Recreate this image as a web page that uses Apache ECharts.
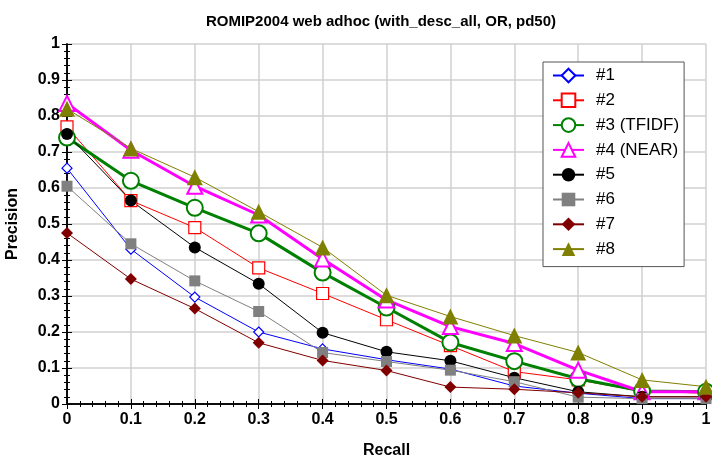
<!DOCTYPE html>
<html>
<head>
<meta charset="utf-8">
<script src="https://cdn.jsdelivr.net/npm/echarts@6/dist/echarts.min.js"></script>
<style>
  html, body { margin: 0; padding: 0; background: #fff; }
  #chart { width: 712px; height: 460px; }
</style>
</head>
<body>
<div id="chart"></div>
<script>
// recall points (x axis)
var recall = [0, 0.1, 0.2, 0.3, 0.4, 0.5, 0.6, 0.7, 0.8, 0.9, 1]
// precision per run
var run1 = [0.655, 0.43, 0.297, 0.2, 0.153, 0.123, 0.097, 0.05, 0.03, 0.015, 0.015]
var run2 = [0.77, 0.565, 0.49, 0.378, 0.307, 0.234, 0.162, 0.09, 0.067, 0.035, 0.03]
var run3 = [0.74, 0.62, 0.545, 0.474, 0.365, 0.268, 0.171, 0.119, 0.07, 0.036, 0.034]
var run4 = [0.835, 0.705, 0.605, 0.525, 0.403, 0.289, 0.215, 0.168, 0.094, 0.034, 0.034]
var run5 = [0.75, 0.565, 0.435, 0.334, 0.198, 0.145, 0.12, 0.073, 0.034, 0.02, 0.02]
var run6 = [0.605, 0.445, 0.342, 0.257, 0.143, 0.118, 0.094, 0.062, 0.019, 0.015, 0.015]
var run7 = [0.475, 0.347, 0.265, 0.17, 0.121, 0.093, 0.047, 0.041, 0.031, 0.02, 0.02]
var run8 = [0.82, 0.71, 0.63, 0.534, 0.435, 0.302, 0.243, 0.19, 0.143, 0.067, 0.048]
var runNames = ['#1', '#2', '#3 (TFIDF)', '#4 (NEAR)', '#5', '#6', '#7', '#8']

function pairs (vals) {
  return recall.map(function (r, i) { return [r, vals[i]] })
}

var font = '"Liberation Sans", Arial, sans-serif'
var myChart = echarts.init(document.getElementById('chart'))

function mkSeries (name, vals, color, symbol, size, hollow, lw) {
  return {
    name: name,
    type: 'line',
    data: pairs(vals),
    symbol: symbol,
    symbolSize: size,
    showAllSymbol: true,
    lineStyle: { color: color, width: lw },
    itemStyle: {
      color: hollow ? '#fff' : color,
      borderColor: color,
      borderWidth: hollow ? (lw > 1 ? 2 : 1.2) : 0
    },
    emphasis: { disabled: true },
    animation: false
  }
}

// top / right axes only draw the frame with inside ticks
var frameAxis = {
  type: 'value',
  min: 0,
  max: 1,
  interval: 0.1,
  axisLine: { show: true, lineStyle: { color: '#000', width: 1.5 } },
  axisTick: { show: true, inside: true, length: 5, lineStyle: { color: '#000' } },
  minorTick: { show: true, splitNumber: 5, length: 3, lineStyle: { color: '#000' } },
  axisLabel: { show: false },
  splitLine: { show: false }
}

var labelStyle = { fontFamily: font, fontSize: 16, fontWeight: 'bold', color: '#000' }

var option = {
  backgroundColor: '#fff',
  title: {
    text: 'ROMIP2004 web adhoc (with_desc_all, OR, pd50)',
    left: 376,
    top: 9,
    textAlign: 'center',
    textStyle: { fontFamily: font, fontSize: 15, fontWeight: 'bold', color: '#000' }
  },
  grid: { left: 67, right: 6, top: 44, bottom: 56, outerBoundsMode: 'none' },
  legend: {
    orient: 'vertical',
    left: 543,
    top: 62,
    padding: [5, 5, 9, 9],
    itemGap: 7.8,
    itemWidth: 31,
    itemHeight: 17,
    backgroundColor: '#fff',
    borderColor: '#555',
    borderWidth: 1,
    data: runNames,
    textStyle: { fontFamily: font, fontSize: 17, lineHeight: 17, color: '#000', padding: [0, 0, 0, 7] }
  },
  xAxis: [
    {
      type: 'value',
      min: 0,
      max: 1,
      interval: 0.1,
      name: 'Recall',
      nameLocation: 'middle',
      nameGap: 39,
      nameTextStyle: labelStyle,
      axisLine: { show: true, lineStyle: { color: '#000', width: 1.5 } },
      axisTick: { show: true, inside: true, length: 5, lineStyle: { color: '#000' } },
      minorTick: { show: true, splitNumber: 5, length: 3, lineStyle: { color: '#000' } },
      axisLabel: Object.assign({ margin: 8 }, labelStyle),
      splitLine: { show: true, lineStyle: { color: '#d0d0d0', width: 1.5 } }
    },
    Object.assign({ position: 'top' }, frameAxis)
  ],
  yAxis: [
    {
      type: 'value',
      min: 0,
      max: 1,
      interval: 0.1,
      name: 'Precision',
      nameLocation: 'middle',
      nameGap: 46,
      nameTextStyle: labelStyle,
      axisLine: { show: true, lineStyle: { color: '#000', width: 1.5 } },
      axisTick: { show: true, inside: true, length: 5, lineStyle: { color: '#000' } },
      minorTick: { show: true, splitNumber: 5, length: 3, lineStyle: { color: '#000' } },
      axisLabel: Object.assign({ margin: 7 }, labelStyle),
      splitLine: { show: true, lineStyle: { color: '#d0d0d0', width: 1.5 } }
    },
    Object.assign({ position: 'right' }, frameAxis)
  ],
  series: [
    mkSeries(runNames[0], run1, '#0000ff', 'diamond', 10, true, 1),
    mkSeries(runNames[1], run2, '#ff0000', 'rect', 12, true, 1),
    mkSeries(runNames[2], run3, '#008000', 'circle', 16, true, 3),
    mkSeries(runNames[3], run4, '#ff00ff', 'triangle', 15, true, 3),
    mkSeries(runNames[4], run5, '#000000', 'circle', 12, false, 1),
    mkSeries(runNames[5], run6, '#808080', 'rect', 11, false, 1),
    mkSeries(runNames[6], run7, '#800000', 'diamond', 12, false, 1),
    mkSeries(runNames[7], run8, '#808000', 'triangle', 16, false, 1)
  ]
}
myChart.setOption(option)
</script>
</body>
</html>
